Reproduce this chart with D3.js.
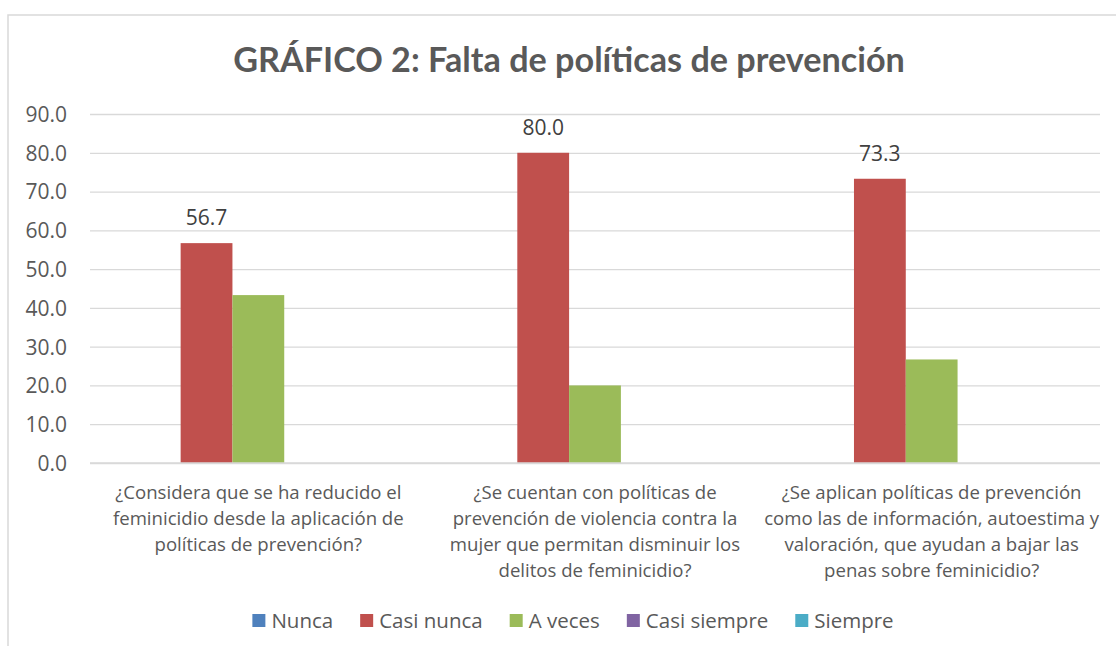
<!DOCTYPE html>
<html><head><meta charset="utf-8">
<script src="https://cdn.jsdelivr.net/npm/d3@7"></script>
<style>
html,body{margin:0;padding:0;background:#fff;}
svg{display:block;}
</style></head>
<body>
<svg id="c" width="1116" height="646"></svg>
<script>
const title = "GRÁFICO 2: Falta de políticas de prevención";
const categories = [
  ["¿Considera que se ha reducido el","feminicidio desde la aplicación de","políticas de prevención?"],
  ["¿Se cuentan con políticas de","prevención de violencia contra la","mujer que permitan disminuir los","delitos de feminicidio?"],
  ["¿Se aplican políticas de prevención","como las de información, autoestima y","valoración, que ayudan a bajar las","penas sobre feminicidio?"]
];
const seriesNames = ["Nunca","Casi nunca","A veces","Casi siempre","Siempre"];
const nunca = [0,0,0];
const casiNunca = [56.7,80.0,73.3];
const aVeces = [43.3,20.0,26.7];
const casiSiempre = [0,0,0];
const siempre = [0,0,0];
const seriesValues = [nunca,casiNunca,aVeces,casiSiempre,siempre];
const labeledSeries = ["Casi nunca"];
const yTicks = [0,10,20,30,40,50,60,70,80,90];
const colors = ["#4F81BD","#C0504D","#9BBB59","#8064A2","#4BACC6"];

const svg = d3.select("#c");
const FONT = "'Open Sans', sans-serif";
const TXT = "#595959";

// frame
svg.append("path").attr("d","M8,646 L8,15 L1116,15").attr("fill","none").attr("stroke","#D9D9D9").attr("stroke-width",1.5);

const m = {left:90, right:1100, top:114, bottom:463};
const y = d3.scaleLinear().domain([0,90]).range([m.bottom,m.top]);
const x0 = d3.scaleBand().domain(d3.range(categories.length)).range([m.left,m.right]).padding(0);
// Excel gap width 150%: group = 5w, gaps 0.75w on each side
const bw = x0.bandwidth()/6.5;
const x1 = d3.scaleBand().domain(seriesNames).range([0.75*bw, x0.bandwidth()-0.75*bw]).padding(0);

// gridlines + y labels
const yAxis = d3.axisLeft(y).tickValues(yTicks).tickSize(-(m.right-m.left)).tickPadding(23).tickFormat(d3.format(".1f"));
const ga = svg.append("g").attr("transform",`translate(${m.left},0)`).call(yAxis);
ga.select(".domain").remove();
ga.selectAll(".tick line").attr("stroke","#D9D9D9").attr("stroke-width",1.3);
ga.selectAll(".tick text").attr("fill",TXT).style("font-family",FONT).style("font-size","21px").attr("dy","0.35em");

// bars
const groups = svg.append("g").selectAll("g").data(categories).join("g")
  .attr("transform",(d,i)=>`translate(${x0(i)},0)`);
seriesNames.forEach((s,si)=>{
  groups.append("rect")
    .attr("x",x1(s)).attr("width",x1.bandwidth())
    .attr("y",(d,i)=>y(seriesValues[si][i]))
    .attr("height",(d,i)=>y(0)-y(seriesValues[si][i]))
    .attr("fill",colors[si]);
  if(labeledSeries.includes(s)){
    groups.append("text")
      .attr("x",x1(s)+x1.bandwidth()/2)
      .attr("y",(d,i)=>y(seriesValues[si][i])-18)
      .attr("text-anchor","middle").attr("fill","#404040")
      .style("font-family",FONT).style("font-size","21px")
      .text((d,i)=>d3.format(".1f")(seriesValues[si][i]));
  }
});

// x axis line
svg.append("line").attr("x1",m.left).attr("x2",m.right).attr("y1",y(0)).attr("y2",y(0)).attr("stroke","#D9D9D9").attr("stroke-width",1.5);

// category labels
categories.forEach((lines,i)=>{
  const t = svg.append("text").attr("text-anchor","middle").attr("fill",TXT)
    .style("font-family",FONT).style("font-size","18.6px");
  lines.forEach((l,j)=>{
    t.append("tspan").attr("x",x0(i)+x0.bandwidth()/2).attr("y",499+j*26).text(l);
  });
});

// title
const tt = svg.append("text").attr("x",569).attr("y",72).attr("text-anchor","middle")
  .attr("fill",TXT).style("font-family","Lato, sans-serif").style("font-weight","bold").style("font-size","30px").text(title);
const tw = tt.node().getComputedTextLength();
tt.style("font-size",(30*672/tw)+"px");

// legend
const lg = svg.append("g");
let cx = 0;
seriesNames.forEach((s,i)=>{
  const g = lg.append("g").attr("transform",`translate(${cx},0)`);
  g.append("rect").attr("x",0).attr("y",614).attr("width",13).attr("height",13).attr("fill",colors[i]);
  const t = g.append("text").attr("x",19).attr("y",628).attr("fill",TXT)
    .style("font-family",FONT).style("font-size","20.5px").text(s);
  cx += 19 + t.node().getComputedTextLength() + 27;
});
const total = cx - 27;
lg.attr("transform",`translate(${573-total/2},0)`);
</script>
</body></html>
